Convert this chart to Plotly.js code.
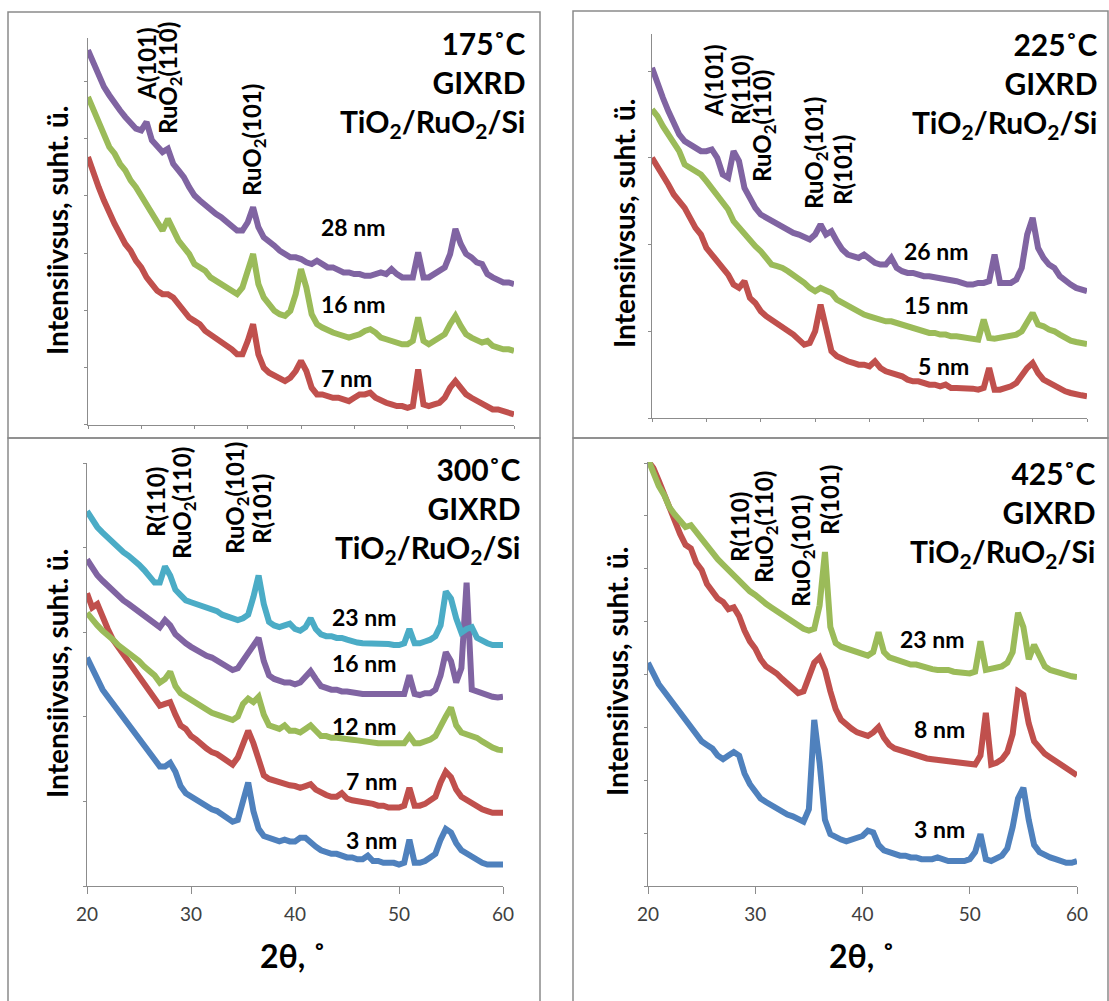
<!DOCTYPE html>
<html><head><meta charset="utf-8">
<script src="https://cdn.plot.ly/plotly-3.0.1.min.js"></script>
<style>html,body{margin:0;padding:0;background:#fff}#chart{width:1109px;height:1001px}</style>
</head><body><div id="chart"></div>
<script>
// 2θ grid (degrees)
const twoTheta = [20,20.5,21,21.5,22,22.5,23,23.5,24,24.5,25,25.5,26,26.5,27,27.5,28,28.5,29,29.5,30,30.5,31,31.5,32,32.5,33,33.5,34,34.5,35,35.5,36,36.5,37,37.5,38,38.5,39,39.5,40,40.5,41,41.5,42,42.5,43,43.5,44,44.5,45,45.5,46,46.5,47,47.5,48,48.5,49,49.5,50,50.5,51,51.5,52,52.5,53,53.5,54,54.5,55,55.5,56,56.5,57,57.5,58,58.5,59,59.5,60];

// 175 °C (intensity, arb. units)
const i175_28nm = [1120,1080,1040,1010,985,960,940,920,905,885,880,905,850,830,815,825,780,760,740,710,685,670,655,640,630,620,605,590,580,580,605,650,590,560,550,535,520,510,500,500,495,485,480,490,480,470,470,460,455,455,450,450,445,445,450,455,450,465,450,440,440,440,515,440,440,450,460,470,510,585,540,510,500,485,480,450,440,430,425,425,420];
const i175_16nm = [980,940,900,870,830,810,780,760,730,710,685,660,630,610,580,615,580,550,530,510,480,470,460,440,430,420,415,400,390,410,460,510,420,380,360,340,330,325,340,390,465,410,330,300,290,280,275,270,265,260,265,270,280,285,275,260,255,250,245,240,240,250,320,250,240,250,260,270,300,325,295,270,260,250,245,250,235,230,225,225,220];
const i175_7nm = [800,750,710,670,630,600,570,540,520,490,470,440,420,400,390,390,380,360,340,320,310,300,280,270,260,250,240,225,210,210,250,300,210,170,155,145,140,130,140,160,190,160,110,90,90,85,80,80,75,70,80,90,90,95,80,70,65,60,55,55,50,55,165,60,55,60,65,80,110,130,110,90,80,70,60,55,45,45,40,35,30];

// 225 °C
const i225_26nm = [1050,1000,960,920,880,850,830,820,810,800,800,805,780,730,720,800,770,690,660,630,610,600,590,580,570,560,555,550,540,535,550,580,550,560,530,505,490,485,480,490,475,465,460,460,480,450,440,435,435,430,425,425,422,420,420,415,410,405,400,400,405,405,410,490,405,405,405,415,450,550,600,510,480,460,450,425,410,400,390,385,380];
const i225_15nm = [925,905,875,850,830,800,760,750,740,730,710,690,670,650,625,590,570,550,530,515,500,480,460,455,450,440,430,415,405,390,380,390,380,375,355,345,335,325,320,310,305,300,295,290,290,285,280,275,270,265,260,255,255,250,250,245,245,242,240,240,235,295,240,238,240,242,245,250,260,290,315,280,275,265,260,250,240,232,228,225,222];
const i225_5nm = [780,755,730,700,670,650,630,600,570,550,510,490,470,450,430,400,390,410,360,345,320,305,295,285,270,260,250,235,220,225,260,340,260,200,185,175,170,165,160,160,155,170,150,140,135,130,125,115,110,110,105,100,100,95,100,90,90,90,90,88,85,90,150,85,85,90,95,105,130,150,165,135,115,105,95,85,80,75,70,68,65];

// 300 °C
const i300_23nm = [1050,1025,1005,990,975,960,950,935,925,915,900,885,865,850,850,895,870,830,815,800,795,790,785,780,775,770,760,755,750,745,750,760,810,870,790,740,730,725,730,735,720,715,725,750,720,705,700,700,695,695,690,685,682,680,680,680,680,678,678,675,675,680,720,680,680,685,690,700,730,825,805,750,710,720,725,695,685,680,675,675,675];
const i300_16nm = [915,890,870,855,840,830,815,800,790,780,770,760,750,740,725,745,730,705,690,680,670,660,650,645,640,630,620,610,605,610,630,650,670,695,630,590,580,575,570,570,565,570,585,602,580,560,555,550,550,545,545,542,540,538,538,538,535,538,535,535,535,538,590,538,535,540,540,550,590,655,630,570,610,850,550,545,538,535,530,528,530];
const i300_12nm = [765,745,730,715,705,690,675,665,650,640,630,615,605,590,570,580,600,560,540,530,520,510,500,490,485,480,475,470,465,475,510,525,515,530,480,450,445,440,450,435,435,430,440,450,435,420,420,415,415,412,410,410,408,405,405,402,400,400,400,400,398,400,420,400,400,405,410,420,450,475,500,450,430,425,420,415,405,395,388,382,380];
const i300_7nm = [820,780,790,750,720,690,670,650,630,610,590,570,550,530,505,510,515,480,450,440,420,410,395,385,375,370,360,350,340,360,400,435,400,350,310,300,295,290,285,282,280,275,280,285,270,260,255,250,250,260,245,240,238,235,232,230,225,225,220,220,220,225,275,225,225,230,240,250,290,320,305,270,250,240,230,220,215,210,205,205,205];
const i300_3nm = [640,610,580,550,530,510,490,470,450,430,410,390,370,350,335,335,345,320,280,260,250,240,230,220,215,210,200,190,180,185,240,290,210,160,140,135,130,125,130,125,125,135,135,120,110,100,95,90,90,85,80,80,75,75,85,70,70,65,65,65,60,65,130,65,65,70,80,90,130,160,150,120,100,90,80,70,65,60,60,58,60];

// 425 °C
const i425_23nm = [1195,1155,1120,1095,1060,1040,1020,1005,1010,990,975,950,935,915,900,885,870,850,840,825,815,800,790,780,770,755,745,740,730,720,715,720,785,935,725,680,670,665,660,655,650,645,655,710,655,640,635,630,625,620,620,615,610,607,605,605,605,600,597,595,595,600,685,605,607,610,615,625,655,765,725,635,675,645,615,605,600,595,590,587,585];
const i425_8nm = [1190,1170,1135,1095,1055,1015,985,955,945,905,885,845,825,805,795,775,780,755,715,685,665,635,615,605,595,580,565,550,540,545,585,625,640,605,545,495,465,450,440,430,425,420,430,445,415,395,385,380,375,370,365,360,357,355,353,350,347,345,343,340,340,340,365,485,340,345,355,375,425,545,535,455,405,385,370,360,350,340,330,320,310];
const i425_3nm = [625,595,565,545,525,505,485,465,445,425,405,395,385,365,355,365,375,365,315,285,265,245,235,225,215,205,200,195,185,180,215,465,345,185,145,135,130,125,130,135,140,155,150,115,100,95,90,85,85,80,80,75,75,75,80,75,70,70,70,70,75,95,145,75,70,80,85,105,165,245,275,185,115,95,85,80,75,70,65,65,70];

const panelTemps = ["175˚C","225˚C","300˚C","425˚C"];
const xTickVals = [20,30,40,50,60];

// ---------- presentation ----------
const W = 1109, H = 1001;
const PX = x => x / W, PY = y => 1 - y / H;
const FONT = 'Lato, "Open Sans", "Noto Sans", sans-serif';
const C = {purple:'#8064A2', green:'#9BBB59', red:'#C0504D', blue:'#4F81BD', cyan:'#4BACC6'};
const LW = 6;

function tr(y, color, ax){ return {x: twoTheta, y: y, type:'scatter', mode:'lines', line:{color:color, width:LW}, xaxis:'x'+ax, yaxis:'y'+ax, hoverinfo:'skip', showlegend:false}; }

const data = [
  tr(i175_7nm, C.red, ''), tr(i175_16nm, C.green, ''), tr(i175_28nm, C.purple, ''),
  tr(i225_5nm, C.red, '2'), tr(i225_15nm, C.green, '2'), tr(i225_26nm, C.purple, '2'),
  tr(i300_3nm, C.blue, '3'), tr(i300_7nm, C.red, '3'), tr(i300_12nm, C.green, '3'), tr(i300_16nm, C.purple, '3'), tr(i300_23nm, C.cyan, '3'),
  tr(i425_3nm, C.blue, '4'), tr(i425_8nm, C.red, '4'), tr(i425_23nm, C.green, '4')
];
for (let k = 0; k < 3; k++){ data[k].xaxis = 'x'; data[k].yaxis = 'y'; }

const AX = '#8c8c8c';
function xax(l, r, anchor, labels){
  return {domain:[PX(l), PX(r)], anchor:anchor, range:[20,60], showline:true, linecolor:AX, linewidth:1,
    ticks:'outside', tickcolor:AX, ticklen: labels?7:3, tickwidth:1,
    tickmode:'array', tickvals: labels ? xTickVals : [20,25,30,35,40,45,50,55,60],
    showticklabels: labels, ticklabelstandoff: 4, tickfont:{family:FONT, size:19, color:'#404040'},
    showgrid:false, zeroline:false, fixedrange:true};
}
function yax(top, bot, anchor, ymax, dt){
  return {domain:[PY(bot), PY(top)], anchor:anchor, range:[0, ymax], showline:true, linecolor:AX, linewidth:1,
    ticks:'outside', tickcolor:AX, ticklen:3, tickwidth:1, tick0:0, dtick:dt, showticklabels:false,
    showgrid:false, zeroline:false, fixedrange:true};
}

const ann = [];
function txt(x, y, s, size, opts){
  ann.push(Object.assign({xref:'paper', yref:'paper', x:PX(x), y:PY(y), text:s, showarrow:false,
    font:{family:FONT, size:size, color:'#000', weight:'bold'}, xanchor:'center', yanchor:'middle'}, opts||{}));
}
function title(right, ymid, temp){
  txt(right, ymid, temp + '<br>GIXRD<br>TiO<sub>2</sub>/RuO<sub>2</sub>/Si', 30, {xanchor:'right', align:'right'});
}
function rot(x, y, s){ txt(x, y, s, 24, {textangle:-90}); }
function ytitle(x, y){ txt(x, y, 'Intensiivsus, suht. ü.', 28, {textangle:-90}); }
const RU = 'RuO<sub>2</sub>';

// top-left
title(528, 84, panelTemps[0]);
ytitle(57, 231);
rot(146, 64, 'A(101)'); rot(169, 78, RU+'(110)'); rot(253, 140, RU+'(101)');
txt(319, 227, '28 nm', 23, {xanchor:'left'});
txt(319, 304, '16 nm', 23, {xanchor:'left'});
txt(319, 378, '7 nm', 23, {xanchor:'left'});
// top-right
title(1100, 85, panelTemps[1]);
ytitle(624, 224);
rot(713, 81, 'A(101)'); rot(741, 90, 'R(110)'); rot(764, 126, RU+'(110)');
rot(815, 153, RU+'(101)'); rot(842, 170, 'R(101)');
txt(971, 251, '26 nm', 23, {xanchor:'right'});
txt(971, 305, '15 nm', 23, {xanchor:'right'});
txt(971, 366, '5 nm', 23, {xanchor:'right'});
// bottom-left
title(523, 510, panelTemps[2]);
ytitle(57, 674);
rot(155, 502, 'R(110)'); rot(184, 503, RU+'(110)'); rot(236, 498, RU+'(101)'); rot(261, 509, 'R(101)');
[['23 nm',617],['16 nm',663],['12 nm',726],['7 nm',781],['3 nm',840]].forEach(a=>txt(399, a[1], a[0], 23, {xanchor:'right'}));
txt(293, 955, '2θ, ˚', 32);
// bottom-right
title(1098, 514, panelTemps[3]);
ytitle(617, 672);
rot(739, 527, 'R(110)'); rot(765, 527, RU+'(110)'); rot(802, 551, RU+'(101)'); rot(830, 500, 'R(101)');
[['23 nm',639],['8 nm',729],['3 nm',829]].forEach(a=>txt(967, a[1], a[0], 23, {xanchor:'right'}));
txt(862, 955, '2θ, ˚', 32);

function box(l, t, r, b){ return {type:'rect', xref:'paper', yref:'paper', x0:PX(l), x1:PX(r), y0:PY(b), y1:PY(t), line:{color:'#8a8a8a', width:1.5}, fillcolor:'rgba(0,0,0,0)', layer:'below'}; }

const layout = {
  width: W, height: H, margin:{l:0, r:0, t:0, b:0}, paper_bgcolor:'#fff', plot_bgcolor:'rgba(0,0,0,0)',
  showlegend:false, font:{family:FONT},
  xaxis: xax(88, 514, 'y', false),  yaxis: yax(38.4, 424.5, 'x', 1155, 171),
  xaxis2: xax(652, 1087, 'y2', false), yaxis2: yax(34.4, 418, 'x2', 1150, 260),
  xaxis3: xax(87, 503, 'y3', true), yaxis3: yax(463, 886, 'x3', 1185, 237),
  xaxis4: xax(648, 1077, 'y4', true), yaxis4: yax(462, 886, 'x4', 1187, 148),
  annotations: ann,
  shapes: [box(8, 12, 540, 438), box(573, 11, 1108, 438), box(8, 438, 540, 1004), box(573, 438, 1108, 1004)]
};

Plotly.newPlot('chart', data, layout, {staticPlot:true, displayModeBar:false});
</script></body></html>
